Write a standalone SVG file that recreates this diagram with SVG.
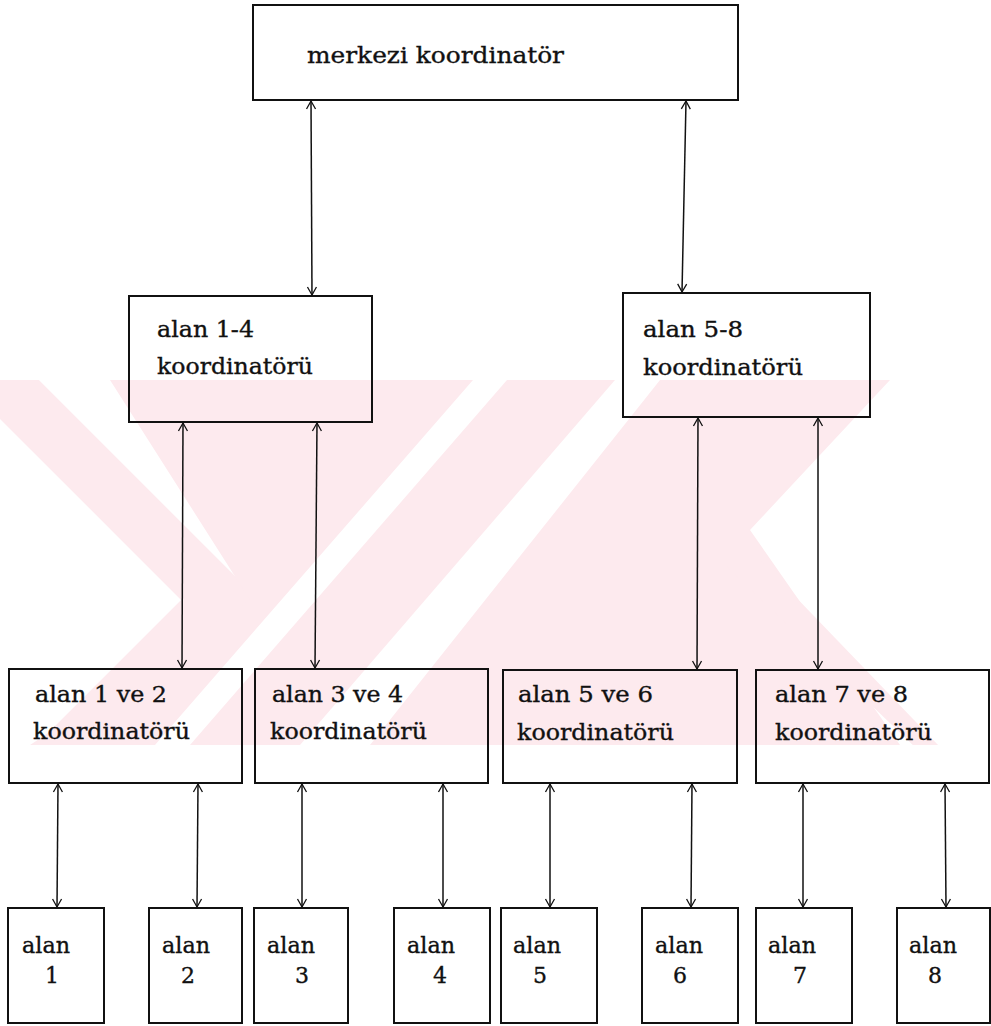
<svg xmlns="http://www.w3.org/2000/svg" width="991" height="1026" viewBox="0 0 991 1026">
<style>
.box{fill:none;stroke:#111;stroke-width:2}
.lbl{font-family:"DejaVu Serif","Liberation Serif",serif;font-size:22px;fill:#111;stroke:#111;stroke-width:0.35}
.con{stroke:#111;stroke-width:1.5;fill:none;marker-start:url(#ah);marker-end:url(#ah)}
.wm{fill:#fdeaee}
</style>
<defs>
<marker id="ah" markerUnits="userSpaceOnUse" markerWidth="14" markerHeight="12" refX="11" refY="6" orient="auto-start-reverse">
<path d="M3,1.5 L11,6 L3,10.5" fill="none" stroke="#111" stroke-width="1.3"/>
</marker>
<clipPath id="band"><rect x="0" y="380" width="991" height="365"/></clipPath>
</defs>
<rect width="991" height="1026" fill="#fff"/>
<g id="watermark" clip-path="url(#band)">
<polyline points="-20,360 220,600 60,760" fill="none" stroke="#fdeaee" stroke-width="55"/>
<polygon class="wm" points="110,380 473,380 155,745 30,745 250,600"/>
<polygon class="wm" points="507,380 615,380 300,745 190,745"/>
<polygon class="wm" points="660,380 890,380 750,530 900,745 580,745 370,745"/>
<polygon class="wm" points="720,560 760,560 991,800 991,820"/>
</g>
<g id="connectors">
<line class="con" x1="311" y1="101" x2="312" y2="295"/>
<line class="con" x1="686" y1="101" x2="682" y2="292"/>
<line class="con" x1="183" y1="423" x2="182" y2="668"/>
<line class="con" x1="317" y1="423" x2="315" y2="668"/>
<line class="con" x1="698" y1="418" x2="697" y2="669"/>
<line class="con" x1="818" y1="418" x2="818" y2="669"/>
<line class="con" x1="58" y1="784" x2="57" y2="907"/>
<line class="con" x1="198" y1="784" x2="197" y2="907"/>
<line class="con" x1="302" y1="784" x2="302" y2="907"/>
<line class="con" x1="443" y1="784" x2="443" y2="907"/>
<line class="con" x1="550" y1="784" x2="550" y2="907"/>
<line class="con" x1="692" y1="784" x2="691" y2="907"/>
<line class="con" x1="803" y1="784" x2="803" y2="907"/>
<line class="con" x1="945" y1="784" x2="946" y2="907"/>
</g>
<g id="merkezi">
<rect class="box" x="253" y="5" width="485" height="95"/>
<text class="lbl" x="307" y="63" textLength="257" lengthAdjust="spacingAndGlyphs">merkezi koordinatör</text>
</g>
<g id="alan14">
<rect class="box" x="129" y="296" width="243" height="126"/>
<text class="lbl" x="157" y="337" textLength="97" lengthAdjust="spacingAndGlyphs">alan 1-4</text>
<text class="lbl" x="157" y="374" textLength="156" lengthAdjust="spacingAndGlyphs">koordinatörü</text>
</g>
<g id="alan58">
<rect class="box" x="623" y="293" width="247" height="124"/>
<text class="lbl" x="643" y="337" textLength="100" lengthAdjust="spacingAndGlyphs">alan 5-8</text>
<text class="lbl" x="643" y="375" textLength="160" lengthAdjust="spacingAndGlyphs">koordinatörü</text>
</g>
<g id="alan12">
<rect class="box" x="9" y="669" width="233" height="114"/>
<text class="lbl" x="35" y="702" textLength="132" lengthAdjust="spacingAndGlyphs">alan 1 ve 2</text>
<text class="lbl" x="33" y="739" textLength="157" lengthAdjust="spacingAndGlyphs">koordinatörü</text>
</g>
<g id="alan34">
<rect class="box" x="255" y="669" width="233" height="114"/>
<text class="lbl" x="272" y="702" textLength="131" lengthAdjust="spacingAndGlyphs">alan 3 ve 4</text>
<text class="lbl" x="270" y="739" textLength="157" lengthAdjust="spacingAndGlyphs">koordinatörü</text>
</g>
<g id="alan56">
<rect class="box" x="503" y="670" width="234" height="113"/>
<text class="lbl" x="518" y="702" textLength="135" lengthAdjust="spacingAndGlyphs">alan 5 ve 6</text>
<text class="lbl" x="517" y="740" textLength="157" lengthAdjust="spacingAndGlyphs">koordinatörü</text>
</g>
<g id="alan78">
<rect class="box" x="756" y="670" width="233" height="113"/>
<text class="lbl" x="775" y="702" textLength="133" lengthAdjust="spacingAndGlyphs">alan 7 ve 8</text>
<text class="lbl" x="775" y="740" textLength="157" lengthAdjust="spacingAndGlyphs">koordinatörü</text>
</g>
<g id="alan1"><rect class="box" x="8" y="908" width="96" height="115"/><text class="lbl" x="22" y="953" textLength="48" lengthAdjust="spacingAndGlyphs">alan</text><text class="lbl" x="52" y="983" text-anchor="middle">1</text></g>
<g id="alan2"><rect class="box" x="149" y="908" width="93" height="115"/><text class="lbl" x="162" y="953" textLength="48" lengthAdjust="spacingAndGlyphs">alan</text><text class="lbl" x="188" y="983" text-anchor="middle">2</text></g>
<g id="alan3"><rect class="box" x="254" y="908" width="94" height="115"/><text class="lbl" x="267" y="953" textLength="48" lengthAdjust="spacingAndGlyphs">alan</text><text class="lbl" x="302" y="983" text-anchor="middle">3</text></g>
<g id="alan4"><rect class="box" x="394" y="908" width="96" height="115"/><text class="lbl" x="407" y="953" textLength="48" lengthAdjust="spacingAndGlyphs">alan</text><text class="lbl" x="440" y="983" text-anchor="middle">4</text></g>
<g id="alan5"><rect class="box" x="501" y="908" width="96" height="115"/><text class="lbl" x="513" y="953" textLength="48" lengthAdjust="spacingAndGlyphs">alan</text><text class="lbl" x="540" y="983" text-anchor="middle">5</text></g>
<g id="alan6"><rect class="box" x="642" y="908" width="96" height="115"/><text class="lbl" x="655" y="953" textLength="48" lengthAdjust="spacingAndGlyphs">alan</text><text class="lbl" x="680" y="983" text-anchor="middle">6</text></g>
<g id="alan7"><rect class="box" x="756" y="908" width="96" height="115"/><text class="lbl" x="768" y="953" textLength="48" lengthAdjust="spacingAndGlyphs">alan</text><text class="lbl" x="800" y="983" text-anchor="middle">7</text></g>
<g id="alan8"><rect class="box" x="897" y="908" width="93" height="115"/><text class="lbl" x="909" y="953" textLength="48" lengthAdjust="spacingAndGlyphs">alan</text><text class="lbl" x="935" y="983" text-anchor="middle">8</text></g>
</svg>
